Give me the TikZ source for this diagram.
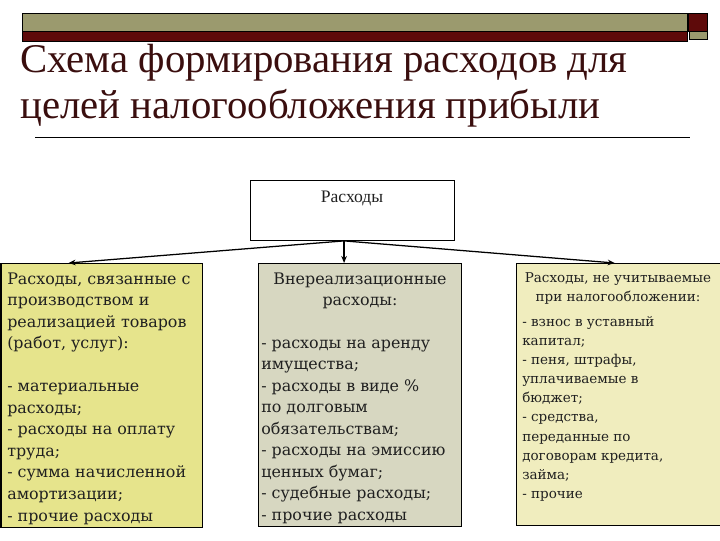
\documentclass[tikz,border=0pt]{standalone}
\usepackage{fontspec}
\setmainfont{Liberation Serif}
\newfontfamily\boxserif{DejaVu Serif}
\usepackage[]{color}
\usepackage{tikz}
\usetikzlibrary{arrows.meta}

\definecolor{olivebar}{HTML}{9B9A6E}
\definecolor{wine}{HTML}{5E0A0A}
\definecolor{titlered}{HTML}{3A0E0E}
\definecolor{prodfill}{HTML}{E6E48C}
\definecolor{otherfill}{HTML}{D7D7C1}
\definecolor{taxfill}{HTML}{F0EDBE}
\definecolor{ink}{HTML}{202020}

\tikzset{
  box/.style = {draw, line width = 0.8pt, anchor = north west, inner sep = 0pt},
  boxtext/.style = {font = \boxserif\fontsize{11.3}{15.3}\selectfont, inner sep = 0pt, color = ink},
  taxtext/.style = {font = \boxserif\fontsize{9.6}{13.6}\selectfont, inner sep = 0pt, color = ink},
  costarrow/.style = {-{Stealth[length = 5pt, width = 4pt]}, line width = 0.9pt}
}

\begin{document}
\begin{tikzpicture}[x = 0.025cm, y = -0.025cm]
\useasboundingbox (0, 0) rectangle (720, 540);
\draw[fill = olivebar, line width = 0.5pt] (22, 13) rectangle (687, 31);
\draw[fill = wine, line width = 0.5pt] (22, 31) rectangle (687, 41);
\draw[fill = wine, line width = 0.5pt] (688, 13) rectangle (707, 31);
\draw[fill = olivebar, line width = 0.5pt] (689, 31) rectangle (707, 39);
\node (titleone) [anchor = base west, inner sep = 0pt, color = titlered, font = \fontsize{29}{33}\selectfont] at (20, 72) {Схема формирования расходов для};
\node (titletwo) [anchor = base west, inner sep = 0pt, color = titlered, font = \fontsize{29}{33}\selectfont] at (20, 118) {целей налогообложения прибыли};
\draw[line width = 0.6pt] (35, 137) -- (690, 137);

\node (costs) [box, minimum width = 145pt, minimum height = 42.5pt] at (250, 180) {};
\node (costslabel) [anchor = base, inner sep = 0pt, color = ink, font = \fontsize{12.5}{15}\selectfont] at (352, 202) {Расходы};

\node (prodbox) [box, fill = prodfill, minimum width = 143.5pt, minimum height = 187.8pt] at (0.4, 263) {};
\node (prodtext) [boxtext, anchor = north west, align = left] at (7, 269) {\strut Расходы, связанные с\\производством и\\реализацией товаров\\(работ, услуг):\\ \\- материальные\\расходы;\\- расходы на оплату\\труда;\\- сумма начисленной\\амортизации;\\- прочие расходы};

\node (otherbox) [box, fill = otherfill, minimum width = 144.6pt, minimum height = 187.1pt] at (258, 263) {};
\node (otherhead) [boxtext, anchor = north, align = center] at (360, 269) {\strut Внереализационные\\расходы:};
\node (otherlist) [boxtext, anchor = north west, align = left] at (261, 333) {\strut - расходы на аренду\\имущества;\\- расходы в виде \%\\по долговым\\обязательствам;\\- расходы на эмиссию\\ценных бумаг;\\- судебные расходы;\\- прочие расходы};

\node (taxbox) [box, fill = taxfill, minimum width = 148pt, minimum height = 186.5pt] at (516, 263) {};
\node (taxhead) [taxtext, anchor = north, align = center] at (618, 268.6) {\strut Расходы, не учитываемые\\при налогообложении:};
\node (taxlist) [taxtext, anchor = north west, align = left] at (522, 312.6) {\strut - взнос в уставный\\капитал;\\- пеня, штрафы,\\уплачиваемые в\\бюджет;\\- средства,\\переданные по\\договорам кредита,\\займа;\\- прочие};

\coordinate (fork) at ([xshift = -6pt]costs.south);
\draw[costarrow] (fork) -- ([xshift = 48.5pt]prodbox.north west);
\draw[costarrow] (fork) -- (fork |- otherbox.north);
\draw[costarrow] (fork) -- ([xshift = 70.2pt]taxbox.north west);
\end{tikzpicture}
\end{document}
